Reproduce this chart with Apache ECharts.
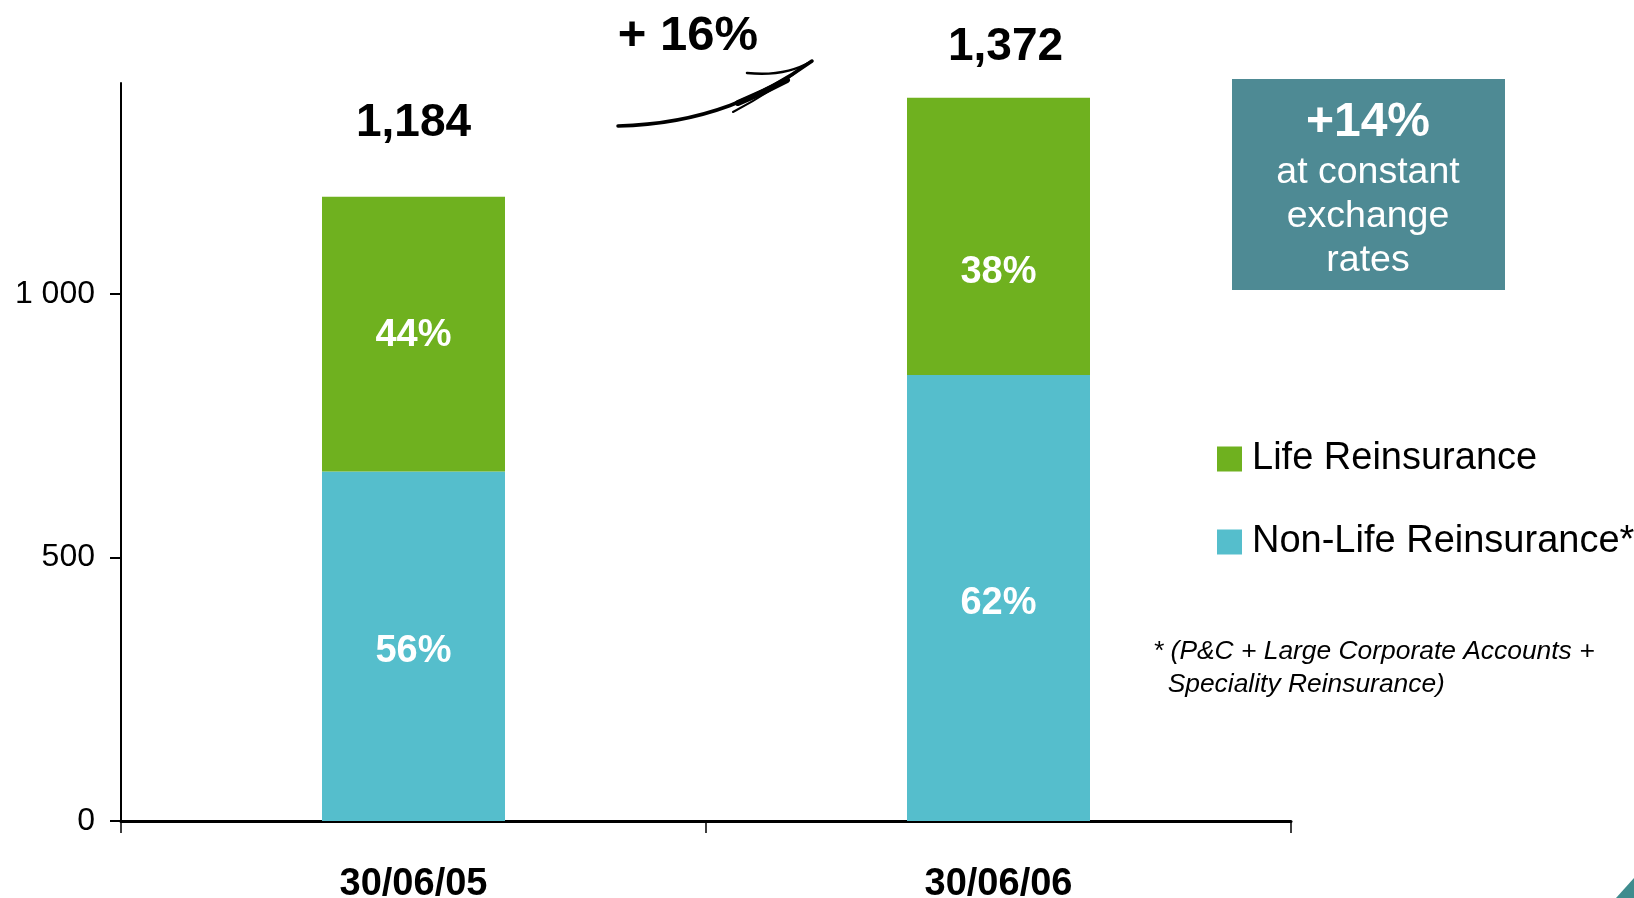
<!DOCTYPE html>
<html>
<head>
<meta charset="utf-8">
<script src="https://cdn.jsdelivr.net/npm/echarts@6/dist/echarts.min.js"></script>
<style>
html,body{margin:0;padding:0;background:#fff;}
#chart{width:1634px;height:898px;}
</style>
</head>
<body>
<div id="chart"></div>
<script>
// ---- data ----
const categories = ['30/06/05', '30/06/06'];
const nonLife = [663, 846];
const life = [521, 526];
const totals = [1184, 1372];
const totalLabels = ['1,184', '1,372'];
const pctNonLife = ['56%', '62%'];
const pctLife = ['44%', '38%'];
const yTicks = [0, 500, 1000];
const seriesNames = ['Non-Life Reinsurance*', 'Life Reinsurance'];
const growthText = '+ 16%';
const boxLines = ['+14%', 'at constant', 'exchange', 'rates'];
const footnote = ['* (P&C + Large Corporate Accounts +', '  Speciality Reinsurance)'];

const FONT = "'Liberation Sans', Arial, sans-serif";
const GREEN = '#6FB11F';
const CYAN = '#55BECC';

const chart = echarts.init(document.getElementById('chart'), null, {renderer: 'canvas'});

const totalLabelStyles = [{distance: 51, offset: [0, 0]}, {distance: 27, offset: [7, 0]}];

const option = {
  animation: false,
  backgroundColor: '#ffffff',
  textStyle: {fontFamily: FONT},
  grid: {left: 121, right: 343, top: 83, bottom: 77, containLabel: false, outerBoundsMode: 'none'},
  legend: {
    data: [seriesNames[1], seriesNames[0]],
    orient: 'vertical',
    left: 1212,
    top: 434,
    itemWidth: 25,
    itemHeight: 25,
    itemGap: 43,
    icon: 'rect',
    selectedMode: false,
    textStyle: {fontFamily: FONT, fontSize: 38, color: '#000', lineHeight: 40, padding: [0, 0, 0, 5]}
  },
  xAxis: {
    type: 'category',
    data: categories,
    boundaryGap: true,
    axisLine: {lineStyle: {color: '#000', width: 3}},
    axisTick: {show: true, length: 12, lineStyle: {color: '#000', width: 1.5}},
    axisLabel: {fontFamily: FONT, fontSize: 38, fontWeight: 'bold', color: '#000', margin: 45}
  },
  yAxis: {
    type: 'value',
    min: 0,
    max: 1400,
    interval: 500,
    splitLine: {show: false},
    axisLine: {show: true, lineStyle: {color: '#000', width: 2}},
    axisTick: {show: true, length: 11, lineStyle: {color: '#000', width: 2}, customValues: yTicks},
    axisLabel: {
      fontFamily: FONT, fontSize: 32, color: '#000', margin: 26,
      customValues: yTicks,
      formatter: v => String(v).replace(/\B(?=(\d{3})+(?!\d))/g, ' ')
    }
  },
  series: [
    {
      name: seriesNames[0],
      type: 'bar',
      stack: 'total',
      barWidth: 183,
      itemStyle: {color: CYAN},
      label: {
        show: true, position: 'inside', color: '#fff', fontFamily: FONT,
        fontSize: 38, fontWeight: 'bold', offset: [0, 5],
        formatter: p => pctNonLife[p.dataIndex]
      },
      data: nonLife
    },
    {
      name: seriesNames[1],
      type: 'bar',
      stack: 'total',
      barWidth: 183,
      itemStyle: {color: GREEN},
      label: {
        show: true, position: 'inside', color: '#fff', fontFamily: FONT,
        fontSize: 38, fontWeight: 'bold', offset: [0, 1],
        formatter: p => pctLife[p.dataIndex]
      },
      data: life.map((v, i) => i === 1 ? {value: v, label: {offset: [0, 36]}} : {value: v})
    },
    {
      name: 'Total',
      type: 'bar',
      barWidth: 183,
      barGap: '-100%',
      z: 1,
      silent: true,
      itemStyle: {color: 'rgba(0,0,0,0)'},
      label: {
        show: true, position: 'top', color: '#000', fontFamily: FONT,
        fontSize: 46, fontWeight: 'bold',
        formatter: p => totalLabels[p.dataIndex]
      },
      data: totals.map((v, i) => ({value: v, label: totalLabelStyles[i]}))
    }
  ],
  graphic: [
    // growth text
    {type: 'text', x: 688, y: 36, style: {text: growthText, font: `bold 49px ${FONT}`, fill: '#000', align: 'center', verticalAlign: 'middle'}},
    // hand-drawn arrow: main stroke
    {type: 'bezierCurve', shape: {x1: 618, y1: 126, x2: 812, y2: 61, cpx1: 705, cpy1: 124, cpx2: 765, cpy2: 95},
      style: {stroke: '#000', lineWidth: 3.5, fill: null, lineCap: 'round'}},
    // thick part
    {type: 'bezierCurve', shape: {x1: 738, y1: 103, x2: 787, y2: 80, cpx1: 755, cpy1: 96, cpx2: 772, cpy2: 88},
      style: {stroke: '#000', lineWidth: 6, fill: null, lineCap: 'round'}},
    // upper barb
    {type: 'bezierCurve', shape: {x1: 747, y1: 73, x2: 812, y2: 61, cpx1: 785, cpy1: 77},
      style: {stroke: '#000', lineWidth: 2.5, fill: null, lineCap: 'round'}},
    // lower barb
    {type: 'bezierCurve', shape: {x1: 733, y1: 112, x2: 808, y2: 63, cpx1: 775, cpy1: 90},
      style: {stroke: '#000', lineWidth: 2, fill: null, lineCap: 'round'}},
    // box
    {type: 'rect', shape: {x: 1232, y: 79, width: 273, height: 211}, style: {fill: '#4E8A94'}},
    {type: 'text', x: 1368, y: 123, style: {text: boxLines[0], font: `bold 48px ${FONT}`, fill: '#fff', align: 'center', verticalAlign: 'middle'}},
    {type: 'text', x: 1368, y: 173, style: {text: boxLines[1], font: `37.5px ${FONT}`, fill: '#fff', align: 'center', verticalAlign: 'middle'}},
    {type: 'text', x: 1368, y: 217, style: {text: boxLines[2], font: `37.5px ${FONT}`, fill: '#fff', align: 'center', verticalAlign: 'middle'}},
    {type: 'text', x: 1368, y: 261, style: {text: boxLines[3], font: `37.5px ${FONT}`, fill: '#fff', align: 'center', verticalAlign: 'middle'}},
    // footnote
    {type: 'text', x: 1153, y: 652, style: {text: footnote[0], font: `italic 26.4px ${FONT}`, fill: '#000', verticalAlign: 'middle'}},
    {type: 'text', x: 1153, y: 685, style: {text: footnote[1], font: `italic 26.4px ${FONT}`, fill: '#000', verticalAlign: 'middle'}},
    // corner decoration
    {type: 'polygon', shape: {points: [[1634, 878], [1634, 898], [1616, 898]]}, style: {fill: '#3F8C8E'}}
  ]
};

chart.setOption(option);
</script>
</body>
</html>
